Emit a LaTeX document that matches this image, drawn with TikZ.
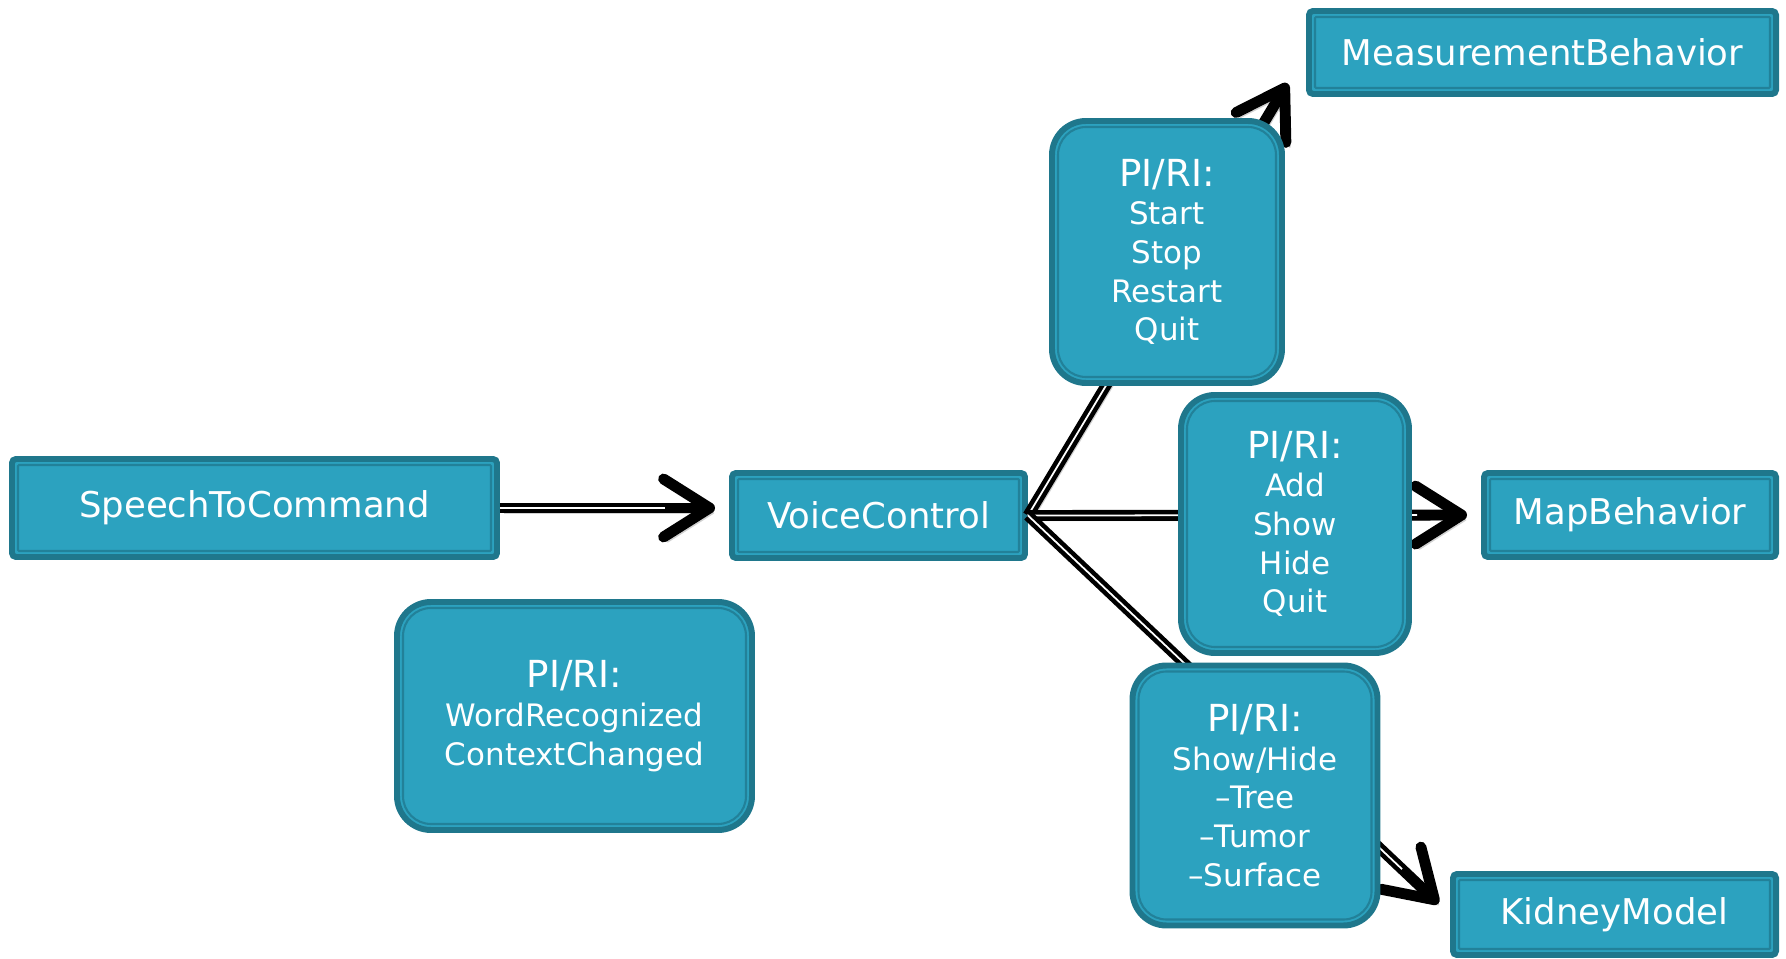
\documentclass[tikz,border=0pt]{standalone}
\usepackage{fontspec}
\setmainfont{DejaVu Sans}
\usetikzlibrary{arrows.meta}

\definecolor{boxfill}{RGB}{44,162,191}
\definecolor{boxedge}{RGB}{31,119,140}
\definecolor{boxline}{RGB}{34,129,153}

\newcommand{\piri}{{\fontsize{10.6}{12}\selectfont PI/RI:}}

\tikzset{
  edgeline/.style={path picture={\draw[boxline, line width=0.6pt, rounded corners=#1]
      ([shift={(0.06,0.06)}]path picture bounding box.south west) rectangle
      ([shift={(-0.06,-0.06)}]path picture bounding box.north east);}},
  classbox/.style={draw=boxedge, fill=boxfill, line width=1.7pt, rounded corners=0.04cm,
      text=white, inner sep=0pt, font=\fontsize{10.1}{13}\selectfont, edgeline=0.01cm},
  msgbox/.style={classbox, rounded corners=0.34cm, edgeline=0.28cm, align=center,
      font=\fontsize{8.8}{11}\selectfont},
  flow/.style={line width=3.1pt, shorten >=#1,
      -{Straight Barb[length=4.6mm, width=5.8mm, line width=3.1pt, round]},
      preaction={draw=black!18, transform canvas={shift={(0.04,-0.05)}}},
      postaction={draw=white, line width=0.5pt, arrows=-, shorten >=#1+5mm}},
  flow/.default=0.1cm
}

\begin{document}
\begin{tikzpicture}
\useasboundingbox (0,0) rectangle (17.86,-9.59);

% Classes
\node[classbox, minimum width=4.85cm, minimum height=0.98cm] (stc) at (2.545,-5.08) {SpeechToCommand};
\node[classbox, minimum width=2.93cm, minimum height=0.85cm] (vc) at (8.785,-5.155) {VoiceControl};
\node[classbox, minimum width=4.67cm, minimum height=0.83cm] (mb) at (15.425,-0.525) {MeasurementBehavior};
\node[classbox, minimum width=2.92cm, minimum height=0.84cm] (map) at (16.30,-5.15) {MapBehavior};
\node[classbox, minimum width=3.23cm, minimum height=0.81cm] (km) at (16.145,-9.145) {KidneyModel};

% Connections
\draw[flow=0.14cm] (stc.east) -- (stc.east -| vc.west);
\draw[flow=0.36cm] (vc.east) -- (mb.west);
\draw[flow=0.14cm] (vc.east) -- (map.west);
\draw[flow=0.16cm] (vc.east) -- (km.west);

% Interfaces
\node[msgbox, minimum width=3.55cm, minimum height=2.28cm] (vcmsg) at (5.745,-7.16)
  {\piri\\WordRecognized\\ContextChanged};
\node[msgbox, minimum width=2.30cm, minimum height=2.62cm] (mbmsg) at (11.67,-2.52)
  {\piri\\Start\\Stop\\Restart\\Quit};
\node[msgbox, minimum width=2.28cm, minimum height=2.58cm] (mapmsg) at (12.95,-5.24)
  {\piri\\Add\\Show\\Hide\\Quit};
\node[msgbox, minimum width=2.45cm, minimum height=2.60cm] (kmmsg) at (12.55,-7.955)
  {\piri\\Show/Hide\\–Tree\\–Tumor\\–Surface};

\end{tikzpicture}
\end{document}
